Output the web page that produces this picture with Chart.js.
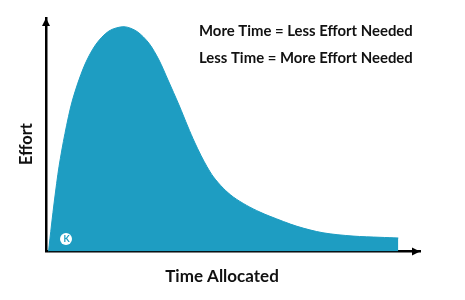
<!DOCTYPE html>
<html>
<head>
<meta charset="utf-8">
<script src="https://cdn.jsdelivr.net/npm/chart.js@4"></script>
<style>
  html, body { margin: 0; padding: 0; background: #ffffff; }
  #wrap { width: 465px; height: 300px; position: relative; }
</style>
</head>
<body>
<div id="wrap"><canvas id="c" width="465" height="300"></canvas></div>
<script>
// Time allocated (0-100) and effort (0-100)
const timeValues   = [0.67, 1.47, 2.27, 3.48, 5.08, 7.09, 10.16, 13.24, 16.84, 20.86, 24.33, 27.54, 30.21, 32.62, 35.56, 37.97, 39.71, 41.44, 43.05, 44.79, 47.41, 50.08, 53.66, 57.22, 59.89, 67.11, 74.06, 82.09, 89.3, 94.2];
const effortValues = [0.0, 11.35, 22.06, 36.32, 50.58, 64.88, 79.19, 88.48, 94.43, 96.27, 94.22, 89.16, 82.01, 73.45, 62.74, 53.32, 46.89, 41.11, 36.32, 31.91, 27.07, 23.34, 19.74, 16.87, 15.07, 10.79, 8.01, 6.6, 6.08, 5.78];
const xAxisTitle = 'Time Allocated';
const yAxisTitle = 'Effort';
const noteLines = ['More Time = Less Effort Needed', 'Less Time = More Effort Needed'];

const points = timeValues.map((t, i) => ({ x: t, y: effortValues[i] }));
const FILL = '#1e9dc2';

const decorPlugin = {
  id: 'decor',
  afterDraw(chart) {
    const ctx = chart.ctx;
    const a = chart.chartArea;
    ctx.save();
    // arrowheads
    ctx.fillStyle = '#000';
    ctx.beginPath();
    ctx.moveTo(a.left, a.top);
    ctx.lineTo(a.left - 4, a.top + 8);
    ctx.lineTo(a.left + 4, a.top + 8);
    ctx.closePath();
    ctx.fill();
    ctx.beginPath();
    ctx.moveTo(a.right, a.bottom);
    ctx.lineTo(a.right - 8, a.bottom - 4);
    ctx.lineTo(a.right - 8, a.bottom + 4);
    ctx.closePath();
    ctx.fill();
    // axis titles
    ctx.fillStyle = '#111';
    ctx.textAlign = 'center';
    ctx.textBaseline = 'alphabetic';
    ctx.font = 'bold 17px Lato';
    ctx.fillText(xAxisTitle, 222, 282.3);
    ctx.save();
    ctx.translate(31.5, 144);
    ctx.rotate(-Math.PI / 2);
    ctx.font = 'bold 16.5px Lato';
    ctx.fillText(yAxisTitle, 0, 0);
    ctx.restore();
    // notes
    ctx.font = 'bold 14.9px Lato';
    ctx.textAlign = 'left';
    ctx.fillText(noteLines[0], 199, 35.7);
    ctx.fillText(noteLines[1], 199, 63.3);
    // small logo
    const lx = a.left + 20, ly = a.bottom - 12.5;
    ctx.fillStyle = '#ffffff';
    ctx.beginPath();
    ctx.arc(lx, ly, 6, 0, Math.PI * 2);
    ctx.fill();
    ctx.fillStyle = FILL;
    ctx.font = 'bold 9px Lato';
    ctx.textAlign = 'center';
    ctx.textBaseline = 'middle';
    ctx.fillText('K', lx + 0.5, ly + 0.5);
    ctx.restore();
  }
};

new Chart(document.getElementById('c'), {
  type: 'line',
  data: {
    datasets: [{
      data: points,
      borderColor: FILL,
      borderWidth: 1,
      backgroundColor: FILL,
      fill: 'origin',
      pointRadius: 0,
      tension: 0.3
    }]
  },
  options: {
    responsive: false,
    animation: false,
    devicePixelRatio: 1,
    layout: { padding: { top: 18, right: 45, left: 0, bottom: 0 } },
    plugins: { legend: { display: false }, tooltip: { enabled: false }, title: { display: false } },
    scales: {
      x: {
        type: 'linear', min: 0, max: 100,
        grid: { display: false, drawTicks: false },
        ticks: { display: false },
        border: { display: true, color: '#000', width: 2.5 },
        afterFit(s) { s.height = 48.5; }
      },
      y: {
        type: 'linear', min: 0, max: 100,
        grid: { display: false, drawTicks: false },
        ticks: { display: false },
        border: { display: true, color: '#000', width: 2.5 },
        afterFit(s) { s.width = 46; }
      }
    }
  },
  plugins: [decorPlugin]
});
</script>
</body>
</html>
